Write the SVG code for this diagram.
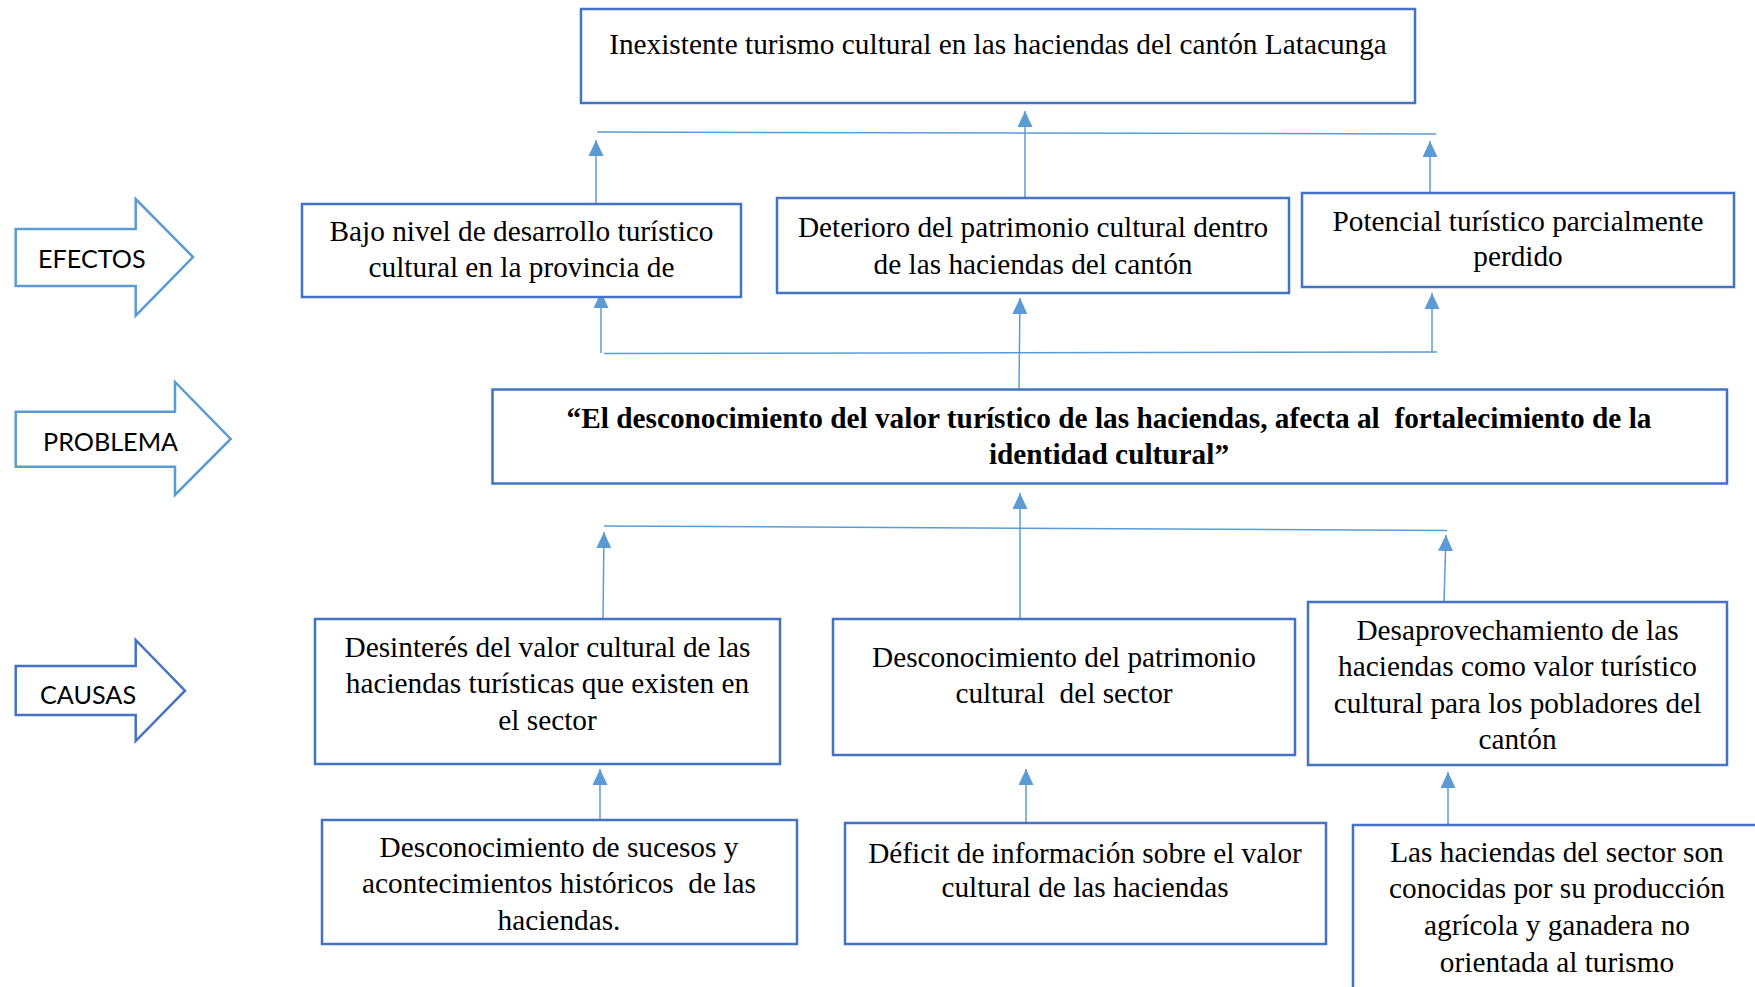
<svg xmlns="http://www.w3.org/2000/svg" width="1755" height="987" viewBox="0 0 1755 987">
<style>
.box{fill:#fff;stroke:#4472C4;stroke-width:2.5}
.t{font-family:"Liberation Serif","Times New Roman",serif;font-size:29.3px;fill:#000;text-anchor:middle;white-space:pre}
.b{font-weight:bold}
.lab{font-family:Lato,"Liberation Sans",sans-serif;font-size:25.2px;fill:#000}
.arrL{fill:#fff;stroke:#5B9BD5;stroke-width:2.5}
.arrD{fill:#fff;stroke:#4472C4;stroke-width:2.5}
.c{fill:none;stroke:#5B9BD5;stroke-width:1.5}
</style>
<defs>
<marker id="ah" markerUnits="userSpaceOnUse" markerWidth="16" markerHeight="15" refX="16" refY="7.5" orient="auto">
<path d="M0,0 L16,7.5 L0,15 z" fill="#5B9BD5"/>
</marker>
</defs>
<rect width="1755" height="987" fill="#fff"/>

<g id="label-efectos">
<polygon class="arrL" points="15.7,229 135.7,229 135.7,199 193,257 135.7,315.7 135.7,286 15.7,286"/>
<text class="lab" x="38" y="268">EFECTOS</text>
</g>
<g id="label-problema">
<polygon class="arrL" points="15.7,411.7 175,411.7 175,382 230.7,439 175,495 175,466.7 15.7,466.7"/>
<text class="lab" x="43" y="451">PROBLEMA</text>
</g>
<g id="label-causas">
<polygon class="arrD" points="15.7,666 135.7,666 135.7,640 185,690.7 135.7,741 135.7,715 15.7,715"/>
<text class="lab" x="40" y="704">CAUSAS</text>
</g>

<g id="connectors">
<line class="c" x1="597" y1="132" x2="1436" y2="134"/>
<line class="c" x1="1025" y1="198" x2="1025" y2="111" marker-end="url(#ah)"/>
<line class="c" x1="596" y1="204" x2="596" y2="140" marker-end="url(#ah)"/>
<line class="c" x1="1430" y1="193" x2="1430" y2="141" marker-end="url(#ah)"/>

<line class="c" x1="604" y1="353.5" x2="1437" y2="352"/>
<line class="c" x1="601" y1="353" x2="601" y2="292" marker-end="url(#ah)"/>
<line class="c" x1="1019" y1="389" x2="1020" y2="298" marker-end="url(#ah)"/>
<line class="c" x1="1432" y1="352" x2="1432" y2="293" marker-end="url(#ah)"/>

<line class="c" x1="604" y1="526" x2="1447" y2="530.5"/>
<line class="c" x1="1020" y1="619" x2="1020" y2="493" marker-end="url(#ah)"/>
<line class="c" x1="603" y1="619" x2="604" y2="532" marker-end="url(#ah)"/>
<line class="c" x1="1444" y1="602" x2="1446" y2="535" marker-end="url(#ah)"/>

<line class="c" x1="600" y1="820" x2="600" y2="769" marker-end="url(#ah)"/>
<line class="c" x1="1026" y1="823" x2="1026" y2="769" marker-end="url(#ah)"/>
<line class="c" x1="1448" y1="825" x2="1448" y2="772" marker-end="url(#ah)"/>
</g>

<g id="n-top">
<rect class="box" x="581" y="9" width="834" height="94"/>
<text class="t" x="998" y="54">Inexistente turismo cultural en las haciendas del cantón Latacunga</text>
</g>
<g id="n-bajo">
<rect class="box" x="302" y="204" width="439" height="93"/>
<text class="t" x="521.5" y="241">Bajo nivel de desarrollo turístico</text>
<text class="t" x="521.5" y="277">cultural en la provincia de</text>
</g>
<g id="n-deterioro">
<rect class="box" x="777" y="198" width="512" height="95"/>
<text class="t" x="1033" y="237">Deterioro del patrimonio cultural dentro</text>
<text class="t" x="1033" y="274">de las haciendas del cantón</text>
</g>
<g id="n-potencial">
<rect class="box" x="1302" y="193" width="432" height="94"/>
<text class="t" x="1518" y="231">Potencial turístico parcialmente</text>
<text class="t" x="1518" y="266">perdido</text>
</g>
<g id="n-problema">
<rect class="box" x="492.5" y="389.5" width="1234.5" height="94"/>
<text class="t b" x="1109" y="428">“El desconocimiento del valor turístico de las haciendas, afecta al  fortalecimiento de la</text>
<text class="t b" x="1109" y="464">identidad cultural”</text>
</g>
<g id="n-desinteres">
<rect class="box" x="315" y="619" width="465" height="145"/>
<text class="t" x="547.5" y="657">Desinterés del valor cultural de las</text>
<text class="t" x="547.5" y="693">haciendas turísticas que existen en</text>
<text class="t" x="547.5" y="730">el sector</text>
</g>
<g id="n-patrimonio">
<rect class="box" x="833" y="619" width="462" height="136"/>
<text class="t" x="1064" y="667">Desconocimiento del patrimonio</text>
<text class="t" x="1064" y="703">cultural  del sector</text>
</g>
<g id="n-desaprovechamiento">
<rect class="box" x="1308" y="602" width="419" height="163"/>
<text class="t" x="1517.5" y="640">Desaprovechamiento de las</text>
<text class="t" x="1517.5" y="676">haciendas como valor turístico</text>
<text class="t" x="1517.5" y="713">cultural para los pobladores del</text>
<text class="t" x="1517.5" y="749">cantón</text>
</g>
<g id="n-sucesos">
<rect class="box" x="322" y="820" width="475" height="124"/>
<text class="t" x="559" y="857">Desconocimiento de sucesos y</text>
<text class="t" x="559" y="893">acontecimientos históricos  de las</text>
<text class="t" x="559" y="930">haciendas.</text>
</g>
<g id="n-deficit">
<rect class="box" x="845" y="823" width="481" height="121"/>
<text class="t" x="1085" y="863">Déficit de información sobre el valor</text>
<text class="t" x="1085" y="897">cultural de las haciendas</text>
</g>
<g id="n-haciendas">
<rect class="box" x="1353" y="825" width="408" height="200"/>
<text class="t" x="1557" y="862">Las haciendas del sector son</text>
<text class="t" x="1557" y="898">conocidas por su producción</text>
<text class="t" x="1557" y="935">agrícola y ganadera no</text>
<text class="t" x="1557" y="972">orientada al turismo</text>
</g>
</svg>
